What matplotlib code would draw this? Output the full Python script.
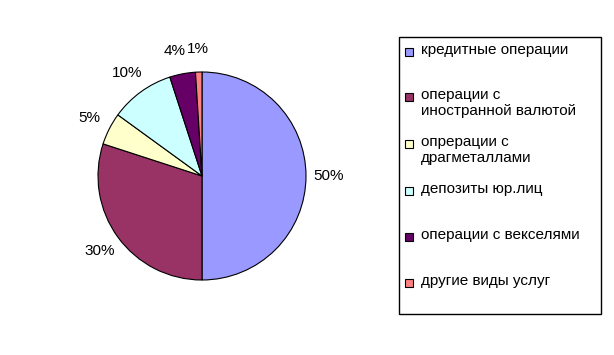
import matplotlib
matplotlib.use("Agg")
import matplotlib.pyplot as plt
from matplotlib.patches import Rectangle

plt.rcParams['font.family'] = ['Liberation Sans', 'DejaVu Sans']

categories = ["кредитные операции", "операции с\nиностранной валютой",
              "опрерации с\nдрагметаллами", "депозиты юр.лиц",
              "операции с векселями", "другие виды услуг"]
values = [50, 30, 5, 10, 4, 1]
colors = ["#9999FF", "#993366", "#FFFFCC", "#CCFFFF", "#660066", "#FF8080"]

W, H = 614, 355
fig = plt.figure(figsize=(W / 100, H / 100), dpi=100)
fig.patch.set_facecolor("white")

cx, cy, r = 202, 176, 104
ax = fig.add_axes([(cx - r) / W, (H - cy - r) / H, 2 * r / W, 2 * r / H])
wedges, texts, autotexts = ax.pie(values, colors=colors, startangle=90, counterclock=False,
                                  autopct=lambda p: f"{p:.0f}%", pctdistance=1.22,
                                  wedgeprops=dict(edgecolor="black", linewidth=0.8),
                                  textprops=dict(fontsize=11, color="black"))
# small nudge so the 4% and 1% labels do not overlap
x4, y4 = autotexts[4].get_position()
autotexts[4].set_position((x4 - 0.03, y4))
ax.set_xlim(-1, 1)
ax.set_ylim(-1, 1)
ax.set_aspect("equal")
ax.axis("off")

# legend box
lx0, ly0, lx1, ly1 = 399, 37, 601, 314
fig.patches.append(Rectangle((lx0 / W, 1 - ly1 / H), (lx1 - lx0) / W, (ly1 - ly0) / H,
                             transform=fig.transFigure, facecolor="white",
                             edgecolor="black", linewidth=1.0))
entry_y = [52, 97, 144, 191, 237, 283]
sq = 8
for lab, col, y in zip(categories, colors, entry_y):
    fig.patches.append(Rectangle(((409 - sq / 2) / W, 1 - (y + sq / 2) / H), sq / W, sq / H,
                                 transform=fig.transFigure, facecolor=col,
                                 edgecolor="black", linewidth=0.8))
    fig.text(421 / W, 1 - (y - 9) / H, lab, fontsize=11, va="top", ha="left",
             linespacing=1.2)

fig.savefig("out.png", dpi=100)
